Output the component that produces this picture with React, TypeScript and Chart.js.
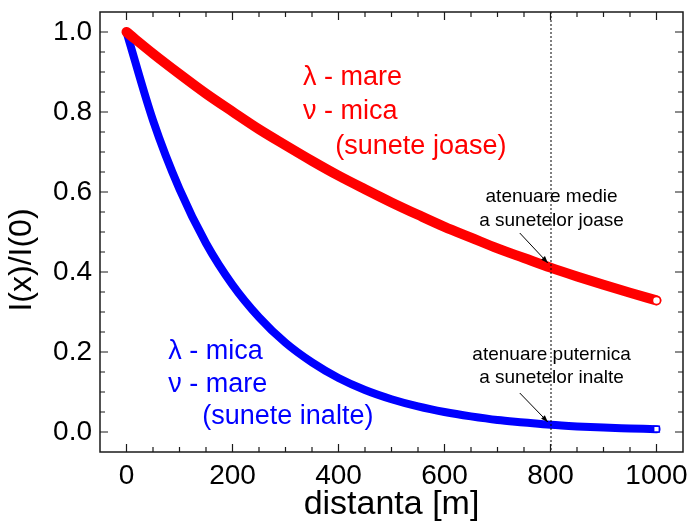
import React, { useEffect, useRef } from "react";
import { Chart, registerables } from "chart.js";

Chart.register(...registerables);

// distance along the path [m]
const distances = [0, 50, 100, 150, 200, 250, 300, 350, 400, 450, 500, 550, 600, 650, 700, 750, 800, 850, 900, 950, 1000];
// red: lambda large, nu small (low sounds)
const lowSounds = [1.0, 0.946, 0.895, 0.846, 0.801, 0.757, 0.717, 0.678, 0.641, 0.607, 0.574, 0.543, 0.513, 0.486, 0.459, 0.435, 0.411, 0.389, 0.368, 0.348, 0.329];
// blue: lambda small, nu large (high sounds)
const highSounds = [1.0, 0.779, 0.607, 0.472, 0.368, 0.287, 0.223, 0.174, 0.135, 0.105, 0.082, 0.064, 0.05, 0.039, 0.03, 0.024, 0.018, 0.014, 0.011, 0.009, 0.007];

const xTickLabels = ["0", "200", "400", "600", "800", "1000"];
const yTickLabels = ["0.0", "0.2", "0.4", "0.6", "0.8", "1.0"];

const FONT = "'Liberation Sans', Arial, sans-serif";
const RED = "#ff0000";
const BLUE = "#0000ff";

const redLabel = ["λ - mare", "ν - mica", "(sunete joase)"];
const blueLabel = ["λ - mica", "ν - mare", "(sunete inalte)"];
const noteLow = ["atenuare medie", "a sunetelor joase"];
const noteHigh = ["atenuare puternica", "a sunetelor inalte"];

function arrow(ctx: CanvasRenderingContext2D, x1: number, y1: number, x2: number, y2: number) {
  ctx.beginPath();
  ctx.moveTo(x1, y1);
  ctx.lineTo(x2, y2);
  ctx.stroke();
  const ang = Math.atan2(y2 - y1, x2 - x1);
  const L = 7, W = 2.6;
  ctx.beginPath();
  ctx.moveTo(x2, y2);
  ctx.lineTo(x2 - L * Math.cos(ang) + W * Math.sin(ang), y2 - L * Math.sin(ang) - W * Math.cos(ang));
  ctx.lineTo(x2 - L * Math.cos(ang) - W * Math.sin(ang), y2 - L * Math.sin(ang) + W * Math.cos(ang));
  ctx.closePath();
  ctx.fill();
}

const overlayPlugin = {
  id: "overlay",
  afterDatasetsDraw(chart: any) {
    const { ctx, chartArea: a, scales } = chart;
    const xs = scales.x, ys = scales.y;
    ctx.save();

    // dotted vertical marker at 800 m
    const p800 = xs.getPixelForValue(800);
    ctx.strokeStyle = "#000";
    ctx.lineWidth = 1;
    ctx.setLineDash([2, 2]);
    ctx.beginPath();
    ctx.moveTo(p800 + 0.5, a.top);
    ctx.lineTo(p800 + 0.5, a.bottom);
    ctx.stroke();
    ctx.setLineDash([]);

    // frame
    ctx.strokeStyle = "#1a1a1a";
    ctx.lineWidth = 1.5;
    ctx.strokeRect(a.left, a.top, a.right - a.left, a.bottom - a.top);

    // inward ticks on all four sides
    ctx.lineWidth = 1.2;
    ctx.beginPath();
    for (let k = 0; k <= 20; k++) {
      const v = k * 50;
      const p = xs.getPixelForValue(v);
      const len = k % 4 === 0 ? 8 : 5;
      ctx.moveTo(p, a.bottom);
      ctx.lineTo(p, a.bottom - len);
      ctx.moveTo(p, a.top);
      ctx.lineTo(p, a.top + len);
    }
    for (let k = 0; k <= 20; k++) {
      const v = k * 0.05;
      const p = ys.getPixelForValue(v);
      const len = k % 4 === 0 ? 8 : 5;
      ctx.moveTo(a.left, p);
      ctx.lineTo(a.left + len, p);
      ctx.moveTo(a.right, p);
      ctx.lineTo(a.right - len, p);
    }
    ctx.stroke();

    // axis titles
    ctx.fillStyle = "#000";
    ctx.font = `34px ${FONT}`;
    ctx.textAlign = "center";
    ctx.textBaseline = "alphabetic";
    ctx.fillText("distanta [m]", (a.left + a.right) / 2, 514);
    ctx.save();
    ctx.translate(31, 260);
    ctx.rotate(-Math.PI / 2);
    ctx.font = `32px ${FONT}`;
    ctx.fillText("I(x)/I(0)", 0, 0);
    ctx.restore();

    // series labels
    ctx.textAlign = "left";
    ctx.textBaseline = "middle";
    ctx.font = `27px ${FONT}`;
    ctx.fillStyle = RED;
    ctx.fillText(redLabel[0], xs.getPixelForValue(333), ys.getPixelForValue(0.885));
    ctx.fillText(redLabel[1], xs.getPixelForValue(333), ys.getPixelForValue(0.8));
    ctx.fillText(redLabel[2], xs.getPixelForValue(394), ys.getPixelForValue(0.7125));
    ctx.fillStyle = BLUE;
    ctx.fillText(blueLabel[0], xs.getPixelForValue(79), ys.getPixelForValue(0.2));
    ctx.fillText(blueLabel[1], xs.getPixelForValue(79), ys.getPixelForValue(0.1175));
    ctx.fillText(blueLabel[2], xs.getPixelForValue(143), ys.getPixelForValue(0.0375));

    // annotations
    ctx.fillStyle = "#000";
    ctx.textAlign = "center";
    ctx.font = `19px ${FONT}`;
    const cx = xs.getPixelForValue(802);
    ctx.fillText(noteLow[0], cx, ys.getPixelForValue(0.5875));
    ctx.fillText(noteLow[1], cx, ys.getPixelForValue(0.5275));
    ctx.fillText(noteHigh[0], cx, ys.getPixelForValue(0.1925));
    ctx.fillText(noteHigh[1], cx, ys.getPixelForValue(0.135));

    ctx.strokeStyle = "#000";
    ctx.lineWidth = 1;
    arrow(ctx, xs.getPixelForValue(742), ys.getPixelForValue(0.4975), xs.getPixelForValue(795), ys.getPixelForValue(0.4225));
    arrow(ctx, xs.getPixelForValue(742), ys.getPixelForValue(0.0975), xs.getPixelForValue(795), ys.getPixelForValue(0.025));

    ctx.restore();
  },
};

export default function App() {
  const canvasRef = useRef<HTMLCanvasElement | null>(null);

  useEffect(() => {
    document.body.style.margin = "0";
    const canvas = canvasRef.current;
    if (!canvas) return;
    const last = distances.length - 1;
    const chart = new Chart(canvas, {
      type: "line",
      data: {
        datasets: [
          {
            label: "low",
            data: distances.map((d, i) => ({ x: d, y: lowSounds[i] })),
            borderColor: RED,
            backgroundColor: "#ffffff",
            borderWidth: 10,
            borderCapStyle: "round",
            cubicInterpolationMode: "monotone",
            pointStyle: "circle",
            pointRadius: (c: any) => (c.dataIndex === last ? 4 : 0),
            pointBorderWidth: 1.5,
            pointBorderColor: RED,
            pointBackgroundColor: "#ffffff",
          },
          {
            label: "high",
            data: distances.map((d, i) => ({ x: d, y: highSounds[i] })),
            borderColor: BLUE,
            backgroundColor: "#ffffff",
            borderWidth: 8,
            borderCapStyle: "round",
            cubicInterpolationMode: "monotone",
            pointStyle: "rect",
            pointRadius: (c: any) => (c.dataIndex === last ? 4 : 0),
            pointBorderWidth: 1.5,
            pointBorderColor: BLUE,
            pointBackgroundColor: "#ffffff",
          },
        ],
      },
      options: {
        animation: false,
        responsive: true,
        maintainAspectRatio: false,
        layout: { padding: { top: 12, right: 7, left: 0, bottom: 0 } },
        plugins: { legend: { display: false }, tooltip: { enabled: false } },
        scales: {
          x: {
            type: "linear",
            min: -50,
            max: 1050,
            grid: { display: false, drawTicks: false },
            border: { display: false },
            ticks: {
              stepSize: 200,
              includeBounds: false,
              padding: 7,
              color: "#000",
              font: { family: FONT, size: 28 },
              callback: (v: any) => {
                const i = [0, 200, 400, 600, 800, 1000].indexOf(Math.round(Number(v)));
                return i >= 0 ? xTickLabels[i] : "";
              },
              maxRotation: 0,
              autoSkip: false,
            },
            afterFit: (s: any) => {
              s.height = 73;
              s.paddingLeft = 0;
              s.paddingRight = 0;
            },
          },
          y: {
            type: "linear",
            min: -0.05,
            max: 1.05,
            grid: { display: false, drawTicks: false },
            border: { display: false },
            ticks: {
              stepSize: 0.2,
              includeBounds: false,
              padding: 8,
              color: "#000",
              font: { family: FONT, size: 28 },
              callback: (v: any) => {
                const i = Math.round(Number(v) / 0.2);
                return Math.abs(Number(v) - i * 0.2) < 1e-6 && i >= 0 && i <= 5 ? yTickLabels[i] : "";
              },
              autoSkip: false,
            },
            afterFit: (s: any) => {
              s.width = 100;
              s.paddingTop = 0;
              s.paddingBottom = 0;
            },
          },
        },
      },
      plugins: [overlayPlugin],
    });
    return () => chart.destroy();
  }, []);

  return (
    <div style={{ width: 690, height: 525, position: "relative" }}>
      <canvas ref={canvasRef} />
    </div>
  );
}
